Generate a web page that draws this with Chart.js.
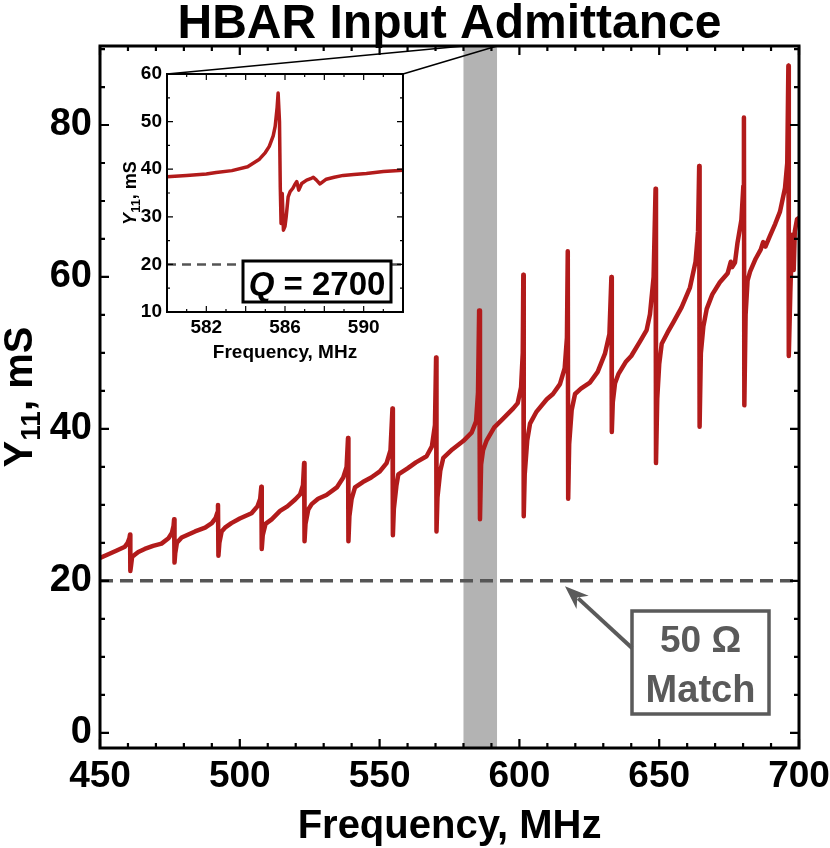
<!DOCTYPE html>
<html><head><meta charset="utf-8">
<script src="https://cdn.jsdelivr.net/npm/chart.js@4/dist/chart.umd.min.js"></script>
<style>
html,body{margin:0;padding:0;background:#fff;}
#wrap{position:relative;width:830px;height:848px;overflow:hidden;}
#main{position:absolute;left:0;top:0;}
#inset{position:absolute;left:100px;top:60px;}
</style></head><body>
<div id="wrap"><canvas id="main" width="830" height="848"></canvas><canvas id="inset" width="320" height="310"></canvas></div>
<script>
// ---------------- DATA ----------------
const freq = [
  450,453,456,458.9,459.9,460.5,
  460.75,460.85,461.1,461.5,462.3,463.7,466,469,472,474.5,475.7,476.3,
  476.5,476.65,476.9,477.5,479.2,481,484,487.6,490,491.4,492.0,
  492.2,492.35,492.7,493.5,494.7,497,500,504.2,506.3,507.3,
  507.7,507.85,508.2,509.2,511.4,514.4,517,519.8,521.6,522.6,
  523.0,523.15,523.5,524.5,525.7,528,531,534.7,537,538.2,
  538.7,538.85,539.2,540,541.2,544,547,550.1,552.5,553.9,
  554.6,554.75,555.1,556,556.7,560,563,566.8,568.7,569.8,
  570.2,570.35,570.7,571.7,572.8,576,579.9,582.9,584.5,585.2,
  585.6,585.9,586.3,587,588.3,591,594,597.8,599.4,600.6,601.2,
  601.4,601.55,601.9,602.8,603.8,606,609.8,612,614.5,616.2,617.0,
  617.3,617.45,617.8,618.7,619.9,622,625.2,628,630.6,632.2,
  632.9,633.05,633.4,634.2,635.4,638,640,643.1,645.5,646.7,648.0,
  648.7,648.85,649.3,650.0,650.9,653,655,658,661,663.0,663.9,
  664.3,664.45,664.9,665.8,667,669,671.7,674.5,675.6,676.1,677.1,678,679.4,680.1,
  680.3,680.45,680.9,681.6,682.5,684.5,686.3,687.2,688,689.5,691.5,693.2,695,695.8,
  696.2,696.35,696.9,697.5,697.8,698.1,698.5,699.3,700
];
const y11 = [
  23.0,23.5,24.0,24.5,25.0,25.6,
  26.1,21.3,22.0,23.2,23.4,23.8,24.2,24.6,24.9,25.6,26.3,27.2,
  28.1,22.4,23.6,25.0,25.7,26.0,26.5,27.0,27.6,28.3,29.0,
  30.0,23.3,25.0,26.5,27.0,27.6,28.2,28.9,29.8,30.8,
  32.4,24.2,26.0,27.5,28.1,29.2,29.8,30.7,31.4,32.6,
  35.5,25.2,27.5,29.4,30.1,30.8,31.3,32.3,33.6,35.0,
  38.8,25.2,28.5,30.8,32.3,33.0,33.6,34.4,35.5,37.2,
  42.7,26.0,29.5,32.5,34.0,34.8,35.6,36.4,37.7,40.5,
  49.4,26.5,31.0,34.5,36.2,37.3,38.4,39.5,41.0,44.8,
  55.6,28.1,35.3,37.2,38.5,40.2,41.3,42.7,43.4,45.5,50.0,
  60.3,28.5,34.0,38.5,40.7,42.2,43.9,44.6,45.9,48.0,52.0,
  63.4,30.8,38.0,42.5,44.6,45.3,46.1,47.5,49.9,52.5,
  60.0,39.6,43.5,46.0,47.2,48.8,49.6,51.5,53.0,55.1,60.0,
  71.6,35.5,44.0,48.5,51.2,52.7,54.0,56.0,58.6,62.0,66.0,
  74.6,40.3,50.0,53.5,55.8,57.7,59.3,60.5,62.0,61.3,61.9,64.5,67.5,72.0,
  81.0,43.1,55.0,59.5,60.7,62.4,63.6,64.6,64.0,65.3,67.0,68.6,71.7,75.0,
  87.8,49.6,58.0,65.0,65.6,60.9,66.0,67.6,67.8
];
const insetFreq = [
  580,581,582,582.5,583.3,584.1,584.7,585.0,585.2,585.4,585.5,585.6,585.65,
  585.72,585.76,585.8,585.86,585.92,586.0,586.06,586.16,586.26,586.4,586.5,586.6,
  586.7,586.85,587.1,587.3,587.44,587.6,587.78,588.1,588.5,588.96,589.5,590.14,591,592
];
const insetY11 = [
  38.4,38.7,39.0,39.3,39.7,40.5,42.1,43.5,44.8,47.0,49.0,53.0,56.0,
  50.0,36.3,28.6,34.9,27.2,28.0,30.0,34.2,35.3,36.0,36.8,37.4,
  35.6,37.0,37.7,38.0,38.3,37.7,36.9,37.9,38.3,38.7,38.9,39.1,39.5,39.8
];
const xTicks = [450,500,550,600,650,700];
const yTicks = [0,20,40,60,80];
const insetXTicks = [582,586,590];
const insetYTicks = [10,20,30,40,50,60];
const matchLevel = 20;          // mS (50 ohm)
const zoomBand = [580, 592];    // MHz, inset span
const arrowTip = [616.3, 19.3]; // MHz, mS
const qText = "2700";

// ---------------- STYLE ----------------
const FONT = '"Liberation Sans", Arial, Helvetica, sans-serif';
const RED = '#b21b1b';
const DASH = '#555555';
const GRAYTXT = '#5a5a5a';

function frameAndTicks(chart, o) {
  const {ctx, chartArea: a, scales: {x, y}} = chart;
  ctx.save();
  ctx.strokeStyle = '#000';
  ctx.lineWidth = o.tickWidth;
  ctx.beginPath();
  for (let v = x.min; v <= x.max + 1e-9; v += o.xMinor) {
    const major = Math.abs(Math.round(v / o.xMajor) * o.xMajor - v) < 1e-6;
    const len = major ? o.major : o.minor;
    const p = x.getPixelForValue(v);
    ctx.moveTo(p, a.bottom); ctx.lineTo(p, a.bottom - len);
    ctx.moveTo(p, a.top); ctx.lineTo(p, a.top + len);
  }
  const y0 = Math.ceil(y.min / o.yMinor) * o.yMinor;
  for (let v = y0; v <= y.max + 1e-9; v += o.yMinor) {
    const major = Math.abs(Math.round(v / o.yMajor) * o.yMajor - v) < 1e-6;
    const len = major ? o.major : o.minor;
    const p = y.getPixelForValue(v);
    ctx.moveTo(a.left, p); ctx.lineTo(a.left + len, p);
    ctx.moveTo(a.right, p); ctx.lineTo(a.right - len, p);
  }
  ctx.stroke();
  ctx.lineWidth = o.frame;
  ctx.strokeRect(a.left, a.top, a.right - a.left, a.bottom - a.top);
  ctx.restore();
}

function drawRotatedLabel(ctx, bx, cy, size, subSize, subShift, italicY) {
  ctx.save();
  ctx.translate(bx, cy);
  ctx.rotate(-Math.PI / 2);
  ctx.fillStyle = '#000';
  ctx.textBaseline = 'alphabetic';
  const fY = (italicY ? 'italic ' : '') + 'bold ' + size + 'px ' + FONT;
  const fS = 'bold ' + subSize + 'px ' + FONT;
  const fR = 'bold ' + size + 'px ' + FONT;
  ctx.font = fY; const wY = ctx.measureText('Y').width;
  ctx.font = fS; const wS = ctx.measureText('11').width;
  ctx.font = fR; const wR = ctx.measureText(', mS').width;
  let x0 = -(wY + wS + wR) / 2;
  ctx.font = fY; ctx.fillText('Y', x0, 0); x0 += wY;
  ctx.font = fS; ctx.fillText('11', x0, subShift); x0 += wS;
  ctx.font = fR; ctx.fillText(', mS', x0, 0);
  ctx.restore();
}

// ---------------- INSET ----------------
const insetDecor = {
  id: 'insetDecor',
  beforeDraw(chart) {
    const {ctx, chartArea: a} = chart;
    ctx.save(); ctx.fillStyle = '#fff';
    ctx.fillRect(a.left, a.top, a.right - a.left, a.bottom - a.top);
    ctx.restore();
  },
  afterDatasetsDraw(chart) {
    const {ctx, chartArea: a} = chart;
    const bw = 148, bh = 41;
    const bx = a.right - 12 - bw, by = a.bottom - 10 - bh;
    ctx.save();
    ctx.fillStyle = '#fff';
    ctx.fillRect(bx, by, bw, bh);
    ctx.strokeStyle = '#000'; ctx.lineWidth = 3;
    ctx.strokeRect(bx, by, bw, bh);
    ctx.fillStyle = '#000'; ctx.textBaseline = 'alphabetic';
    const fQ = 'italic bold 33px ' + FONT, fT = 'bold 33px ' + FONT;
    ctx.font = fQ; const wq = ctx.measureText('Q').width;
    ctx.font = fT; const rest = ' = ' + qText; const wr = ctx.measureText(rest).width;
    let tx = bx + (bw - wq - wr) / 2;
    const ty = by + bh - 7;
    ctx.font = fQ; ctx.fillText('Q', tx, ty);
    ctx.font = fT; ctx.fillText(rest, tx + wq, ty);
    ctx.restore();
    frameAndTicks(chart, {tickWidth: 1.2, frame: 2, major: 6, minor: 3,
      xMinor: 1, xMajor: 2, yMinor: 5, yMajor: 10});
  },
  afterDraw(chart) {
    const {ctx, chartArea: a} = chart;
    ctx.save();
    ctx.fillStyle = '#000';
    ctx.font = 'bold 19px ' + FONT;
    ctx.textAlign = 'center'; ctx.textBaseline = 'alphabetic';
    ctx.fillText('Frequency, MHz', (a.left + a.right) / 2, a.bottom + 46);
    ctx.restore();
    drawRotatedLabel(ctx, 36, (a.top + a.bottom) / 2, 18, 13, 4, true);
  }
};

const insetChart = new Chart(document.getElementById('inset'), {
  type: 'line',
  data: {
    datasets: [
      {data: insetFreq.map((f, i) => ({x: f, y: insetY11[i]})), borderColor: RED,
       borderWidth: 3.5, pointRadius: 0, tension: 0, borderJoinStyle: 'round', order: 1},
      {data: [{x: zoomBand[0], y: matchLevel}, {x: zoomBand[1], y: matchLevel}], borderColor: DASH,
       borderWidth: 2.5, borderDash: [9, 6], pointRadius: 0, order: 2}
    ]
  },
  options: {
    responsive: false, animation: false, devicePixelRatio: 1,
    layout: {padding: {top: 14, right: 17, left: 0, bottom: 0}, autoPadding: false},
    plugins: {legend: {display: false}, tooltip: {enabled: false}},
    scales: {
      x: {type: 'linear', min: zoomBand[0], max: zoomBand[1],
        grid: {display: false, drawTicks: false}, border: {display: false},
        ticks: {color: '#000', padding: 4, maxRotation: 0, autoSkip: false,
          font: {family: FONT, size: 19, weight: 'bold'}},
        afterBuildTicks: s => { s.ticks = insetXTicks.map(v => ({value: v})); },
        afterFit: s => { s.height = 58; s.paddingLeft = 0; s.paddingRight = 0; }},
      y: {type: 'linear', min: 10, max: 60,
        grid: {display: false, drawTicks: false}, border: {display: false},
        ticks: {color: '#000', padding: 5, font: {family: FONT, size: 19, weight: 'bold'}},
        afterBuildTicks: s => { s.ticks = insetYTicks.map(v => ({value: v})); },
        afterFit: s => { s.width = 67; s.paddingTop = 0; s.paddingBottom = 0; }}
    }
  },
  plugins: [insetDecor]
});

// ---------------- MAIN ----------------
const INSET_OFF = {x: 100, y: 60};
const mainDecor = {
  id: 'mainDecor',
  beforeDatasetsDraw(chart) {
    const {ctx, chartArea: a, scales: {x}} = chart;
    const x0 = x.getPixelForValue(zoomBand[0]), x1 = x.getPixelForValue(zoomBand[1]);
    ctx.save(); ctx.fillStyle = '#b3b3b3';
    ctx.fillRect(x0, a.top, x1 - x0, a.bottom - a.top);
    ctx.restore();
  },
  afterDatasetsDraw(chart) {
    const {ctx, chartArea: a, scales: {x, y}} = chart;
    frameAndTicks(chart, {tickWidth: 2.2, frame: 3, major: 9, minor: 5,
      xMinor: 10, xMajor: 50, yMinor: 5, yMajor: 20});
    const ia = insetChart.chartArea;
    ctx.save();
    ctx.strokeStyle = '#000'; ctx.lineWidth = 1.5;
    ctx.beginPath();
    ctx.moveTo(x.getPixelForValue(zoomBand[0]), a.top);
    ctx.lineTo(INSET_OFF.x + ia.left, INSET_OFF.y + ia.top);
    ctx.moveTo(x.getPixelForValue(zoomBand[1]), a.top);
    ctx.lineTo(INSET_OFF.x + ia.right, INSET_OFF.y + ia.top);
    ctx.stroke();
    const box = {l: 632, t: 611, w: 137, h: 103};
    ctx.fillStyle = '#fff';
    ctx.fillRect(box.l, box.t, box.w, box.h);
    ctx.strokeStyle = GRAYTXT; ctx.lineWidth = 3.5;
    ctx.strokeRect(box.l, box.t, box.w, box.h);
    ctx.fillStyle = GRAYTXT; ctx.textAlign = 'center'; ctx.textBaseline = 'alphabetic';
    ctx.font = 'bold 37px ' + FONT;
    ctx.fillText('50 Ω', box.l + box.w / 2, box.t + 41);
    ctx.font = 'bold 38px ' + FONT;
    ctx.fillText('Match', box.l + box.w / 2, box.t + 91);
    const tx = x.getPixelForValue(arrowTip[0]), ty = y.getPixelForValue(arrowTip[1]);
    const sx = box.l, sy = box.t + 37;
    const ang = Math.atan2(ty - sy, tx - sx);
    const hl = 24, hw = 9;
    const bx = tx - hl * Math.cos(ang), by = ty - hl * Math.sin(ang);
    ctx.strokeStyle = GRAYTXT; ctx.lineWidth = 4;
    ctx.beginPath(); ctx.moveTo(sx, sy); ctx.lineTo(bx + 6 * Math.cos(ang), by + 6 * Math.sin(ang)); ctx.stroke();
    ctx.beginPath();
    ctx.moveTo(tx, ty);
    ctx.lineTo(bx + hw * Math.sin(ang), by - hw * Math.cos(ang));
    ctx.lineTo(tx - 0.7 * hl * Math.cos(ang), ty - 0.7 * hl * Math.sin(ang));
    ctx.lineTo(bx - hw * Math.sin(ang), by + hw * Math.cos(ang));
    ctx.closePath(); ctx.fill();
    ctx.restore();
  },
  afterDraw(chart) {
    const {ctx, chartArea: a} = chart;
    const cx = (a.left + a.right) / 2;
    ctx.save();
    ctx.fillStyle = '#000'; ctx.textAlign = 'center'; ctx.textBaseline = 'alphabetic';
    ctx.font = 'bold 48px ' + FONT;
    ctx.fillText('HBAR Input Admittance', cx, 38);
    ctx.font = 'bold 40px ' + FONT;
    ctx.fillText('Frequency, MHz', cx, 838);
    ctx.restore();
    drawRotatedLabel(ctx, 32, (a.top + a.bottom) / 2, 40, 28, 8, false);
  }
};

new Chart(document.getElementById('main'), {
  type: 'line',
  data: {
    datasets: [
      {data: freq.map((f, i) => ({x: f, y: y11[i]})), borderColor: RED,
       borderWidth: 4.5, pointRadius: 0, tension: 0, borderJoinStyle: 'round', order: 2},
      {data: [{x: xTicks[0], y: matchLevel}, {x: xTicks[xTicks.length - 1], y: matchLevel}],
       borderColor: DASH, borderWidth: 3.5, borderDash: [13, 7], pointRadius: 0, order: 1}
    ]
  },
  options: {
    responsive: false, animation: false, devicePixelRatio: 1,
    layout: {padding: {top: 46, right: 31, left: 0, bottom: 0}, autoPadding: false},
    plugins: {legend: {display: false}, tooltip: {enabled: false}},
    scales: {
      x: {type: 'linear', min: 450, max: 700,
        grid: {display: false, drawTicks: false}, border: {display: false},
        ticks: {color: '#000', padding: 7, maxRotation: 0, autoSkip: false,
          font: {family: FONT, size: 37, weight: 'bold'}},
        afterBuildTicks: s => { s.ticks = xTicks.map(v => ({value: v})); },
        afterFit: s => { s.height = 100; s.paddingLeft = 0; s.paddingRight = 0; }},
      y: {type: 'linear', min: -2, max: 90.4,
        grid: {display: false, drawTicks: false}, border: {display: false},
        ticks: {color: '#000', padding: 8, font: {family: FONT, size: 38, weight: 'bold'}},
        afterBuildTicks: s => { s.ticks = yTicks.map(v => ({value: v})); },
        afterFit: s => { s.width = 100; s.paddingTop = 0; s.paddingBottom = 0; }}
    }
  },
  plugins: [mainDecor]
});
</script>
</body></html>
